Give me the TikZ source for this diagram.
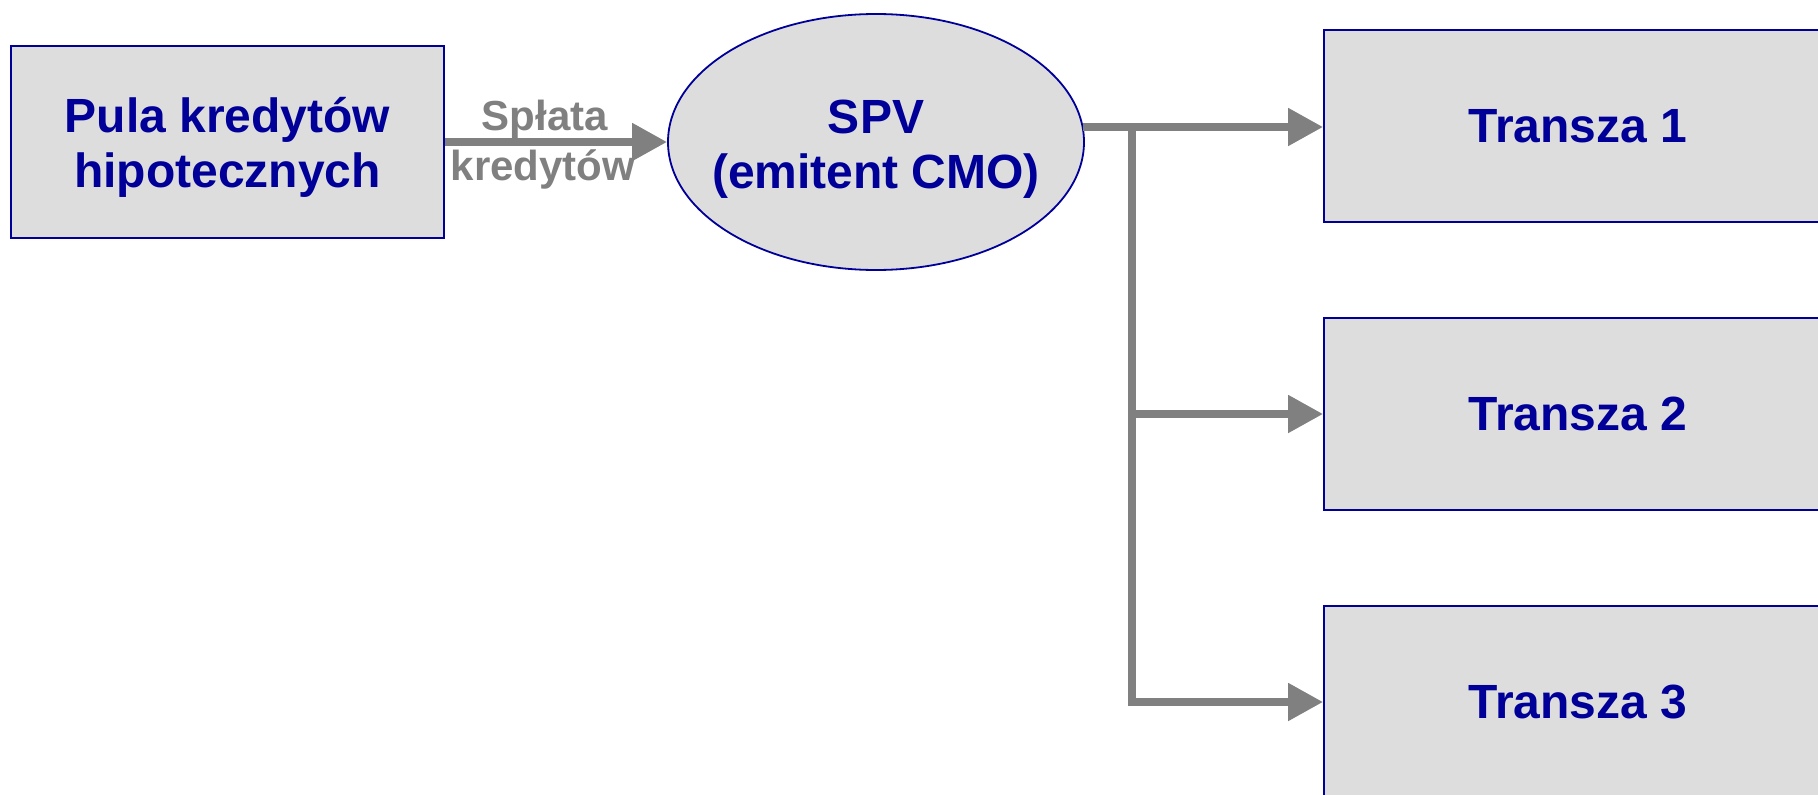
\documentclass[tikz,border=0pt]{standalone}
\usepackage{fontspec}
\setmainfont{Liberation Sans}
\usetikzlibrary{arrows.meta,shapes.geometric}
\definecolor{navy}{HTML}{000099}
\definecolor{boxfill}{HTML}{DDDDDD}
\definecolor{flow}{HTML}{808080}
\tikzset{
  stagebox/.style={draw=navy, line width=1.8pt, fill=boxfill, text=navy,
    font=\fontsize{48}{55}\selectfont\bfseries, align=center,
    inner sep=0pt, minimum height=192pt},
  issuer/.style={ellipse, draw=navy, line width=1.8pt, fill=boxfill,
    inner sep=0pt, minimum width=416pt, minimum height=256pt},
  boxtext/.style={text=navy, font=\fontsize{48}{55}\selectfont\bfseries,
    inner sep=0pt, anchor=base},
  flowarrow/.style={draw=flow, line width=8pt,
    -{Triangle[length=35pt,width=36pt]}},
  flowline/.style={draw=flow, line width=8pt},
  flowlabel/.style={text=flow, font=\fontsize{42}{50}\selectfont\bfseries,
    inner sep=0pt, anchor=base}
}
\begin{document}
\begin{tikzpicture}[x=1pt,y=-1pt]
  \useasboundingbox (0,0) rectangle (1818,795);
  \clip (0,0) rectangle (1818,795);

  % pool of mortgage loans
  \node[stagebox, minimum width=433pt] (pool) at (227.5,142) {};
  \node[boxtext] (poolA) at (227.5,132) {Pula kredytów};
  \node[boxtext] (poolB) at (227.5,187) {hipotecznych};

  % issuing vehicle
  \node[issuer] (spv) at (876,142) {};
  \node[boxtext] (spvA) at (876,133) {SPV};
  \node[boxtext] (spvB) at (876,188) {(emitent CMO)};

  % tranches
  \node[stagebox, minimum width=508pt] (t1) at (1578,126) {Transza 1};
  \node[stagebox, minimum width=508pt] (t2) at (1578,414) {Transza 2};
  \node[stagebox, minimum width=508pt] (t3) at (1578,702) {Transza 3};

  % repayments flow into the SPV
  \draw[flowarrow] (pool.east) -- (spv.west);
  \node[flowlabel] (lblA) at (545,130) {Spłata};
  \node[flowlabel] (lblB) at (543,180) {kredytów};

  % distribution to the tranches
  \coordinate (j1) at (1132,127);
  \coordinate (j2) at (1132,414);
  \coordinate (j3) at (1132,702);
  \coordinate (out) at ([xshift=-2pt]spv.east |- j1);
  \draw[flowarrow] (out) -- (t1.west |- j1);
  \draw[flowline, line cap=rect] (j1) -- (j3);
  \draw[flowarrow] (j2) -- (t2.west);
  \draw[flowarrow] ([xshift=-4pt]j3) -- (t3.west);
\end{tikzpicture}
\end{document}
